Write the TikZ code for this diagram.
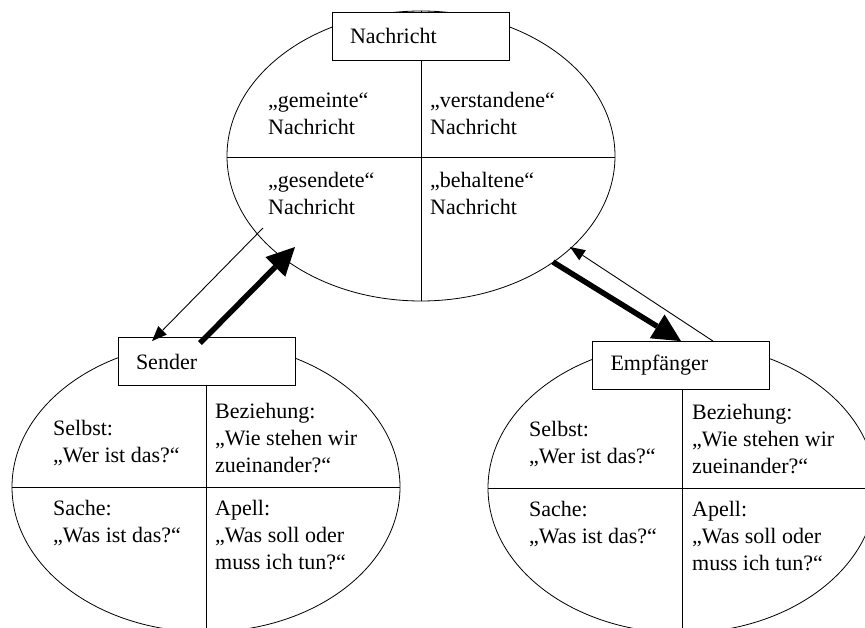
\documentclass[tikz,border=0pt]{standalone}
\usepackage{fontspec}
\setmainfont{Liberation Serif}
\usetikzlibrary{arrows.meta}
\begin{document}
\begin{tikzpicture}[x=1pt,y=-1pt,
  txt/.style={font=\fontsize{22}{27}\selectfont, align=left, inner sep=0pt, anchor=base west},
  titlebox/.style={draw, line width=0.8pt, fill=white, font=\fontsize{22}{27}\selectfont,
    minimum width=177pt, minimum height=48pt, text width=141pt, align=left,
    inner xsep=18pt, inner ysep=0pt},
  oval/.style={line width=0.8pt},
  thinarrow/.style={line width=0.9pt, -{Triangle[length=15pt,width=12pt,line width=0pt]}},
  thickarrow/.style={line width=5.5pt, -{Triangle[length=28pt,width=28pt,line width=0pt]}},
]
\useasboundingbox (0,0) rectangle (865,628);
\begin{scope}
\clip (0,0) rectangle (865,628);
% top ellipse
\draw[oval] (421,156) ellipse [x radius=194pt, y radius=145pt];
\draw[oval] (421,11) -- (421,301);
\draw[oval] (227,157) -- (615,157);
% left ellipse
\draw[oval] (206,487) ellipse [x radius=194pt, y radius=145pt];
\draw[oval] (206,342) -- (206,632);
\draw[oval] (12,487) -- (400,487);
% right ellipse
\draw[oval] (682,488) ellipse [x radius=194pt, y radius=145pt];
\draw[oval] (682,343) -- (682,633);
\draw[oval] (488,488) -- (876,488);
\end{scope}

% boxes
\node[titlebox] (nach) at (420.5,36) {Nachricht};
\node[titlebox] (send) at (206.5,361.5) {Sender};
\node[titlebox] (empf) at (681,365.5) {Empfänger};

% cell texts, top (anchor at baseline of last line)
\node[txt] (n1) at (268,135) {„gemeinte“\\Nachricht};
\node[txt] (n2) at (430,135) {„verstandene“\\Nachricht};
\node[txt] (n3) at (268,215) {„gesendete“\\Nachricht};
\node[txt] (n4) at (430,215) {„behaltene“\\Nachricht};
% left
\node[txt] (s1) at (53,462) {Selbst:\\„Wer ist das?“};
\node[txt] (s2) at (215,472) {Beziehung:\\„Wie stehen wir\\zueinander?“};
\node[txt] (s3) at (53,542) {Sache:\\„Was ist das?“};
\node[txt] (s4) at (215,569) {Apell:\\„Was soll oder\\muss ich tun?“};
% right
\node[txt] (e1) at (529,463) {Selbst:\\„Wer ist das?“};
\node[txt] (e2) at (692,473) {Beziehung:\\„Wie stehen wir\\zueinander?“};
\node[txt] (e3) at (529,543) {Sache:\\„Was ist das?“};
\node[txt] (e4) at (692,570) {Apell:\\„Was soll oder\\muss ich tun?“};

% connector end points
\coordinate (nachSL) at (263,228);
\coordinate (nachSR) at (295,247);
\coordinate (nachEL) at (553,262);
\coordinate (nachER) at (570,247);
\coordinate (sendL) at ([xshift=-54.5pt,yshift=-4pt]send.north);
\coordinate (sendR) at ([xshift=-6.5pt,yshift=-6pt]send.north);
\coordinate (empfL) at (empf.north);
\coordinate (empfR) at ([xshift=32pt]empf.north);

% arrows
\draw[thinarrow] (nachSL) -- (sendL);
\draw[thickarrow] (sendR) -- (nachSR);
\draw[thickarrow] (nachEL) -- (empfL);
\draw[thinarrow] (empfR) -- (nachER);
\end{tikzpicture}
\end{document}
